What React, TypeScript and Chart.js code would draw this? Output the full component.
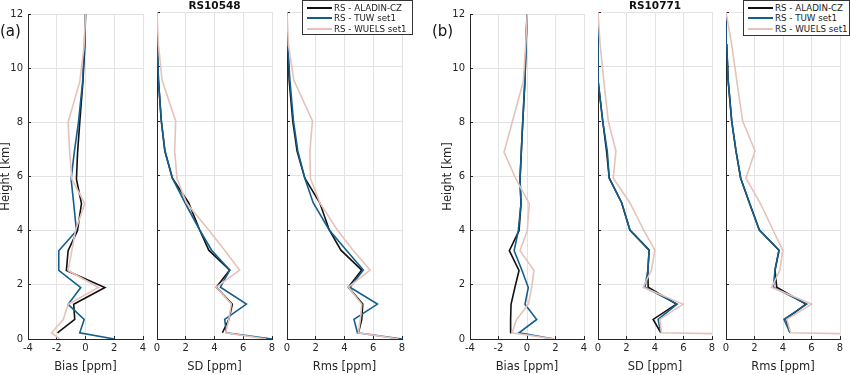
import React, { useEffect, useRef } from 'react';
import { Chart, registerables } from 'chart.js';

Chart.register(...registerables);

// ---------- data ----------
const HEIGHTS = [0, 0.23, 0.72, 1.28, 1.9, 2.53, 3.26, 4, 5, 5.9, 6.9, 8, 9.5, 10.8, 12];
const HEIGHT_TICKS = [0, 2, 4, 6, 8, 10, 12];
const BIAS_TICKS = [-4, -2, 0, 2, 4];
const ERR_TICKS = [0, 2, 4, 6, 8];
const SERIES_NAMES = ['RS - ALADIN-CZ', 'RS - TUW set1', 'RS - WUELS set1'];
const STATION_NAMES = ['RS10548', 'RS10771'];
const PANEL_LETTERS = ['(a)', '(b)'];

// station RS10548
const A_BIAS_ALADIN = [null, -1.95, -0.75, -0.82, 1.35, -1.33, -1.21, -0.56, -0.28, -0.63, -0.55, -0.4, -0.18, -0.05, 0];
const A_BIAS_TUW = [2.0, -0.4, -0.09, -1.21, -0.33, -1.86, -1.86, -0.63, -0.82, -1.0, -0.78, -0.49, -0.2, -0.08, 0];
const A_BIAS_WUELS = [-1.8, -2.36, -1.55, -1.21, 0.9, -1.21, -0.95, -0.7, -0.05, -0.95, -1.1, -1.21, -0.4, -0.1, 0];

const A_SD_ALADIN = [null, 4.55, 5.0, 5.24, 4.13, 5.06, 3.6, 2.97, 2.2, 1.07, 0.55, 0.3, 0.1, 0.02, 0];
const A_SD_TUW = [8.0, 4.83, 4.71, 6.22, 4.41, 5.06, 3.8, 2.97, 1.95, 1.07, 0.55, 0.3, 0.1, 0.02, 0];
const A_SD_WUELS = [7.6, 4.78, 5.0, 5.17, 4.13, 5.75, 4.7, 3.6, 2.04, 1.39, 1.23, 1.3, 0.35, 0.1, 0];

const A_RMS_ALADIN = [null, 4.97, 5.2, 5.27, 4.27, 5.2, 3.75, 2.94, 2.28, 1.24, 0.7, 0.4, 0.15, 0.05, 0];
const A_RMS_TUW = [8.0, 4.9, 4.66, 6.29, 4.38, 5.31, 4.13, 2.94, 1.82, 1.24, 0.75, 0.45, 0.2, 0.05, 0];
const A_RMS_WUELS = [7.76, 4.97, 5.1, 5.2, 4.27, 5.78, 4.6, 3.5, 2.28, 1.63, 1.59, 1.77, 0.47, 0.1, 0];

// station RS10771
const B_BIAS_ALADIN = [null, -1.19, -1.15, -1.12, -0.85, -0.56, -1.24, -0.56, -0.42, -0.49, -0.4, -0.3, -0.15, -0.07, 0];
const B_BIAS_TUW = [1.9, -0.56, 0.68, -0.14, 0.09, -0.35, -0.9, -0.61, -0.42, -0.49, -0.4, -0.3, -0.15, -0.07, 0];
const B_BIAS_WUELS = [1.9, -1.05, -0.73, 0.09, 0.33, 0.49, -0.49, 0.02, 0.16, -0.77, -1.61, -1.04, -0.26, -0.1, 0.02];

const B_SD_ALADIN = [null, 4.41, 3.87, 5.5, 3.52, 3.5, 3.59, 2.24, 1.66, 0.79, 0.6, 0.33, 0.0, 0, 0];
const B_SD_TUW = [null, 4.41, 4.22, 5.55, 3.29, 3.5, 3.59, 2.24, 1.66, 0.79, 0.65, 0.33, 0.0, 0, 0];
const B_SD_WUELS = [30, 4.45, 4.34, 5.97, 3.17, 3.75, 3.99, 3.2, 2.24, 1.07, 1.26, 0.72, 0.4, 0.15, 0];

const B_RMS_ALADIN = [null, 4.49, 4.21, 5.6, 3.56, 3.44, 3.72, 2.34, 1.64, 1.03, 0.7, 0.4, 0.15, 0.05, 0];
const B_RMS_TUW = [null, 4.49, 4.07, 5.66, 3.32, 3.44, 3.72, 2.34, 1.64, 1.03, 0.7, 0.4, 0.15, 0.05, 0];
const B_RMS_WUELS = [30, 4.54, 4.26, 6.01, 3.2, 3.79, 3.98, 3.3, 2.39, 1.4, 2.04, 1.17, 0.75, 0.4, 0];

// ---------- style ----------
const FONT = '"DejaVu Sans", sans-serif';
const COLORS = ['#111111', '#145e8c', '#e6c2ba'];
const DRAW_ORDER = [2, 1, 0];
const AXIS_COLOR = '#262626';
const GRID_COLOR = '#e3e3e3';
const W = 850;
const H = 375;
const PLOT_TOP = 12;
const X_AXIS_H = 36;
const Y_AXIS_W = 28;

type PanelDef = {
  left: number;
  right: number;
  yLabels: boolean;
  xTicks: number[];
  xTitle: string;
  series: (number | null)[][];
};

const PANELS: PanelDef[] = [
  { left: 28, right: 143, yLabels: true, xTicks: BIAS_TICKS, xTitle: 'Bias [ppm]', series: [A_BIAS_ALADIN, A_BIAS_TUW, A_BIAS_WUELS] },
  { left: 157, right: 272, yLabels: false, xTicks: ERR_TICKS, xTitle: 'SD [ppm]', series: [A_SD_ALADIN, A_SD_TUW, A_SD_WUELS] },
  { left: 287, right: 402, yLabels: false, xTicks: ERR_TICKS, xTitle: 'Rms [ppm]', series: [A_RMS_ALADIN, A_RMS_TUW, A_RMS_WUELS] },
  { left: 470, right: 584, yLabels: true, xTicks: BIAS_TICKS, xTitle: 'Bias [ppm]', series: [B_BIAS_ALADIN, B_BIAS_TUW, B_BIAS_WUELS] },
  { left: 598, right: 712, yLabels: false, xTicks: ERR_TICKS, xTitle: 'SD [ppm]', series: [B_SD_ALADIN, B_SD_TUW, B_SD_WUELS] },
  { left: 726, right: 840, yLabels: false, xTicks: ERR_TICKS, xTitle: 'Rms [ppm]', series: [B_RMS_ALADIN, B_RMS_TUW, B_RMS_WUELS] },
];

function toPoints(vals: (number | null)[]) {
  const pts: { x: number; y: number }[] = [];
  vals.forEach((v, i) => {
    if (v !== null && v !== undefined) pts.push({ x: v, y: HEIGHTS[i] });
  });
  return pts;
}

function Panel({ def }: { def: PanelDef }) {
  const ref = useRef<HTMLCanvasElement | null>(null);
  useEffect(() => {
    if (!ref.current) return;
    const yw = def.yLabels ? Y_AXIS_W : 0;
    const chart = new Chart(ref.current, {
      type: 'scatter',
      data: {
        datasets: def.series.map((vals, i) => ({
          label: SERIES_NAMES[i],
          data: toPoints(vals),
          showLine: true,
          borderColor: COLORS[i],
          backgroundColor: COLORS[i],
          borderWidth: 1.6,
          pointRadius: 0,
          pointHoverRadius: 0,
          order: DRAW_ORDER[i],
        })),
      },
      options: {
        animation: false,
        responsive: false,
        events: [],
        layout: {
          padding: { left: def.left - yw, right: W - def.right, top: PLOT_TOP, bottom: 0 },
        },
        plugins: { legend: { display: false }, tooltip: { enabled: false }, title: { display: false } },
        scales: {
          x: {
            type: 'linear',
            position: 'bottom',
            min: def.xTicks[0],
            max: def.xTicks[def.xTicks.length - 1],
            afterBuildTicks: (s: any) => {
              s.ticks = def.xTicks.map((v) => ({ value: v }));
            },
            afterFit: (s: any) => {
              s.height = X_AXIS_H;
            },
            ticks: {
              font: { family: FONT, size: 10 },
              color: AXIS_COLOR,
              padding: 6,
              maxRotation: 0,
              autoSkip: false,
            },
            grid: { color: GRID_COLOR, lineWidth: 1, drawTicks: true, tickLength: -3, tickColor: AXIS_COLOR },
            border: { display: true, color: AXIS_COLOR, width: 1 },
            title: {
              display: true,
              text: def.xTitle,
              color: AXIS_COLOR,
              font: { family: FONT, size: 11.5 },
              padding: { top: 0, bottom: 1 },
            },
          },
          y: {
            type: 'linear',
            position: 'left',
            min: HEIGHT_TICKS[0],
            max: HEIGHT_TICKS[HEIGHT_TICKS.length - 1],
            afterBuildTicks: (s: any) => {
              s.ticks = HEIGHT_TICKS.map((v) => ({ value: v }));
            },
            afterFit: (s: any) => {
              s.width = yw;
            },
            ticks: {
              display: def.yLabels,
              font: { family: FONT, size: 10 },
              color: AXIS_COLOR,
              padding: 8,
              autoSkip: false,
            },
            grid: { color: GRID_COLOR, lineWidth: 1, drawTicks: true, tickLength: -3, tickColor: AXIS_COLOR },
            border: { display: true, color: AXIS_COLOR, width: 1 },
            title: {
              display: def.yLabels,
              text: 'Height [km]',
              color: AXIS_COLOR,
              font: { family: FONT, size: 11.5 },
              padding: { top: -1, bottom: 0 },
            },
          },
        },
      },
    } as any);
    return () => chart.destroy();
  }, [def]);
  return (
    <canvas
      ref={ref}
      width={W}
      height={H}
      style={{ position: 'absolute', left: 0, top: 0, width: W, height: H }}
    />
  );
}

function Legend({ left, width, height }: { left: number; width: number; height: number }) {
  return (
    <div
      style={{
        position: 'absolute',
        left,
        top: 0,
        width,
        height,
        boxSizing: 'border-box',
        border: '1px solid #333',
        background: '#fff',
        fontFamily: FONT,
        fontSize: 8.7,
        color: '#222',
      }}
    >
      {SERIES_NAMES.map((name, i) => (
        <div
          key={name}
          style={{
            position: 'absolute',
            left: 4,
            top: 1 + i * 10.8,
            height: 11,
            display: 'flex',
            alignItems: 'center',
            whiteSpace: 'nowrap',
          }}
        >
          <span style={{ display: 'inline-block', width: 25, height: 0, borderTop: `2px solid ${COLORS[i]}`, marginRight: 2 }} />
          <span>{name}</span>
        </div>
      ))}
    </div>
  );
}

export default function App() {
  return (
    <div style={{ position: 'absolute', left: 0, top: 0, width: W, height: H, background: '#fff', overflow: 'hidden' }}>
      {PANELS.map((p, i) => (
        <Panel key={i} def={p} />
      ))}
      {[PANELS[1], PANELS[4]].map((p, i) => (
        <div
          key={STATION_NAMES[i]}
          style={{
            position: 'absolute',
            left: p.left,
            width: p.right - p.left,
            top: 0,
            textAlign: 'center',
            fontFamily: FONT,
            fontWeight: 'bold',
            fontSize: 10.5,
            lineHeight: '11px',
            color: '#111',
          }}
        >
          {STATION_NAMES[i]}
        </div>
      ))}
      {[0, 432].map((x, i) => (
        <div
          key={PANEL_LETTERS[i]}
          style={{ position: 'absolute', left: x, top: 22, fontFamily: FONT, fontSize: 15, lineHeight: '18px', color: '#111' }}
        >
          {PANEL_LETTERS[i]}
        </div>
      ))}
      <Legend left={302} width={111} height={35} />
      <Legend left={743} width={107} height={36} />
    </div>
  );
}
